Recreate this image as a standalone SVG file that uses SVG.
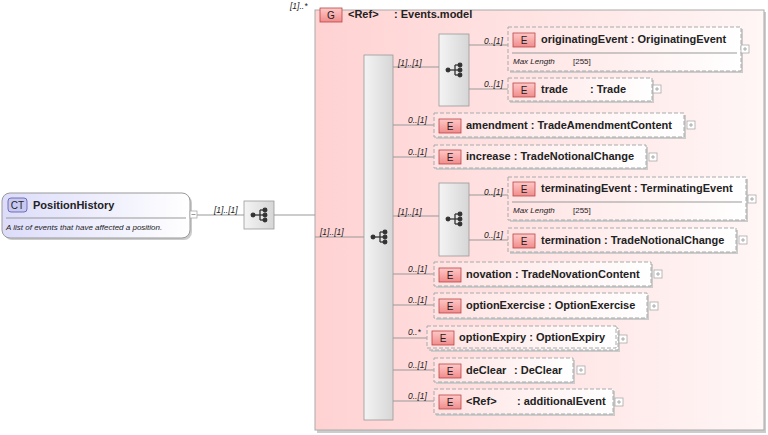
<svg xmlns="http://www.w3.org/2000/svg" width="768" height="435" viewBox="0 0 768 435">
<defs>
<linearGradient id="gg" x1="0" y1="0" x2="1" y2="0"><stop offset="0" stop-color="#ffd2d2"/><stop offset="1" stop-color="#fff6f6"/></linearGradient>
<linearGradient id="eg" x1="0" y1="0" x2="1" y2="0"><stop offset="0" stop-color="#ffe2e2"/><stop offset="1" stop-color="#ffffff"/></linearGradient>
<linearGradient id="sg" x1="0" y1="0" x2="1" y2="0"><stop offset="0" stop-color="#f4f4f4"/><stop offset="1" stop-color="#d6d6d6"/></linearGradient>
<linearGradient id="ctg" x1="0" y1="0" x2="1" y2="0"><stop offset="0" stop-color="#dcdcfa"/><stop offset="1" stop-color="#ffffff"/></linearGradient>
<linearGradient id="bg" x1="0" y1="0" x2="0" y2="1"><stop offset="0" stop-color="#ffc8c8"/><stop offset="1" stop-color="#f08c8c"/></linearGradient>
<g id="seqicon"><line x1="-7" y1="0" x2="0" y2="0"/><line x1="0" y1="-5" x2="0" y2="5"/><line x1="0" y1="-5" x2="5" y2="-5"/><line x1="0" y1="5" x2="5" y2="5"/><line x1="0" y1="0" x2="5" y2="0"/><circle cx="-7" cy="0" r="1.8"/><circle cx="5" cy="-5" r="1.8"/><circle cx="5" cy="0" r="1.8"/><circle cx="5" cy="5" r="1.8"/></g>
<g id="plus"><rect x="0" y="0" width="8" height="8" fill="#fff" stroke="#aaa" stroke-width="0.8"/><path d="M2 4h4M4 2v4" stroke="#999" stroke-width="0.8"/></g>
</defs>
<style>
text{font-family:"Liberation Sans",Arial,sans-serif;}
.nm{font-size:11px;font-weight:bold;fill:#222;}
.card{font-size:8.5px;font-style:italic;fill:#222;}
.sm{font-size:8px;fill:#222;}
.el{fill:url(#eg);stroke:#aaa;stroke-dasharray:4 2;stroke-width:1;}
.sh{fill:#ccc;}
.bd{fill:url(#bg);stroke:#b44;stroke-width:0.8;}
.bt{font-size:10px;fill:#222;}
.seq{fill:url(#sg);stroke:#999;stroke-width:0.8;}
.ic{stroke:#333;fill:#333;stroke-width:1.3;}
.cn line{stroke:#999;stroke-width:1;}
</style>

<g id="group">
<rect x="317" y="12" width="449" height="421" fill="#ccc"/>
<rect x="315" y="10" width="449" height="420" fill="url(#gg)" stroke="#aaa"/>
<text x="290" y="9" class="card">[1]..*</text>
<rect x="320" y="8" width="22" height="14" class="bd"/><text x="331" y="19" class="bt" text-anchor="middle">G</text>
<text x="348" y="18" class="nm">&lt;Ref&gt;</text><text x="394" y="18" class="nm">: Events.model</text>
</g>

<g class="cn">
<line x1="197" y1="215" x2="244" y2="215"/>
<line x1="274" y1="215" x2="315" y2="215"/>
<line x1="315" y1="237" x2="364" y2="237"/>
<line x1="393" y1="67" x2="439" y2="67"/>
<line x1="469" y1="45" x2="508" y2="45"/>
<line x1="469" y1="89" x2="508" y2="89"/>
<line x1="393" y1="125" x2="434" y2="125"/>
<line x1="393" y1="157" x2="434" y2="157"/>
<line x1="393" y1="216" x2="439" y2="216"/>
<line x1="469" y1="195" x2="508" y2="195"/>
<line x1="469" y1="240" x2="508" y2="240"/>
<line x1="393" y1="274" x2="434" y2="274"/>
<line x1="393" y1="305" x2="434" y2="305"/>
<line x1="393" y1="338" x2="427" y2="338"/>
<line x1="393" y1="370" x2="434" y2="370"/>
<line x1="393" y1="401" x2="434" y2="401"/>
</g>
<g id="labels">
<text x="214" y="213" class="card">[1]..[1]</text>
<text x="320" y="235" class="card">[1]..[1]</text>
<text x="398" y="66" class="card">[1]..[1]</text>
<text x="484" y="44" class="card">0..[1]</text>
<text x="484" y="87" class="card">0..[1]</text>
<text x="408" y="123" class="card">0..[1]</text>
<text x="408" y="155" class="card">0..[1]</text>
<text x="398" y="215" class="card">[1]..[1]</text>
<text x="484" y="195" class="card">0..[1]</text>
<text x="484" y="238" class="card">0..[1]</text>
<text x="408" y="272" class="card">0..[1]</text>
<text x="408" y="303" class="card">0..[1]</text>
<text x="408" y="335" class="card">0..*</text>
<text x="408" y="368" class="card">0..[1]</text>
<text x="408" y="399" class="card">0..[1]</text>
</g>

<g id="PositionHistory">
<rect x="4" y="195" width="188" height="45" rx="8" fill="#ccc"/>
<rect x="2" y="193" width="188" height="45" rx="8" fill="url(#ctg)" stroke="#999"/>
<rect x="8" y="198" width="19" height="14" rx="3" fill="#c8c8f0" stroke="#55a" stroke-width="0.8"/>
<text x="17.5" y="209" class="bt" text-anchor="middle">CT</text>
<text x="33" y="209" class="nm">PositionHistory</text>
<line x1="6" y1="218" x2="186" y2="218" stroke="#999"/>
<text x="6" y="230" class="sm" font-size="8.5" font-style="italic">A list of events that have affected a position.</text>
<rect x="190" y="211" width="7" height="7" fill="#fff" stroke="#aaa" stroke-width="0.8"/><path d="M191.5 214.5h4" stroke="#999"/>
</g>

<g id="seq0"><rect x="244" y="201" width="30" height="28" class="seq"/><use href="#seqicon" x="260" y="215" class="ic"/></g>
<g id="seqMain"><rect x="364" y="55" width="29" height="365" class="seq"/><use href="#seqicon" x="380" y="237" class="ic"/></g>
<g id="seq1"><rect x="439" y="34" width="30" height="72" class="seq"/><use href="#seqicon" x="455" y="70" class="ic"/></g>
<g id="seq2"><rect x="439" y="183" width="30" height="73" class="seq"/><use href="#seqicon" x="455" y="219" class="ic"/></g>

<g id="originatingEvent">
<rect x="510" y="29" width="233" height="44" class="sh"/><rect x="508" y="27" width="233" height="44" class="el"/>
<rect x="513" y="33" width="22" height="14" class="bd"/><text x="524" y="44" class="bt" text-anchor="middle">E</text>
<text x="541" y="43" class="nm">originatingEvent : OriginatingEvent</text>
<line x1="512" y1="53" x2="737" y2="53" stroke="#999"/>
<text x="513" y="64" class="sm" font-style="italic">Max Length</text><text x="573" y="64" class="sm" fill="#777">[255]</text>
<use href="#plus" x="741" y="45"/>
</g>
<g id="trade">
<rect x="510" y="80" width="144" height="23" class="sh"/><rect x="508" y="78" width="144" height="23" class="el"/>
<rect x="513" y="83" width="22" height="14" class="bd"/><text x="524" y="94" class="bt" text-anchor="middle">E</text>
<text x="541" y="93" class="nm">trade</text><text x="590" y="93" class="nm">: Trade</text>
<use href="#plus" x="653" y="85"/>
</g>
<g id="amendment">
<rect x="436" y="115" width="250" height="24" class="sh"/><rect x="434" y="113" width="250" height="24" class="el"/>
<rect x="439" y="119" width="22" height="14" class="bd"/><text x="450" y="130" class="bt" text-anchor="middle">E</text>
<text x="466" y="129" class="nm">amendment : TradeAmendmentContent</text>
<use href="#plus" x="687" y="121"/>
</g>
<g id="increase">
<rect x="436" y="147" width="212" height="23" class="sh"/><rect x="434" y="145" width="212" height="23" class="el"/>
<rect x="439" y="150" width="22" height="14" class="bd"/><text x="450" y="161" class="bt" text-anchor="middle">E</text>
<text x="466" y="160" class="nm">increase : TradeNotionalChange</text>
<use href="#plus" x="649" y="153"/>
</g>
<g id="terminatingEvent">
<rect x="510" y="179" width="238" height="43" class="sh"/><rect x="508" y="177" width="238" height="43" class="el"/>
<rect x="513" y="182" width="22" height="14" class="bd"/><text x="524" y="193" class="bt" text-anchor="middle">E</text>
<text x="541" y="192" class="nm">terminatingEvent : TerminatingEvent</text>
<line x1="512" y1="202" x2="742" y2="202" stroke="#999"/>
<text x="513" y="213" class="sm" font-style="italic">Max Length</text><text x="573" y="213" class="sm" fill="#777">[255]</text>
<use href="#plus" x="748" y="195"/>
</g>
<g id="termination">
<rect x="510" y="230" width="228" height="24" class="sh"/><rect x="508" y="228" width="228" height="24" class="el"/>
<rect x="513" y="234" width="22" height="14" class="bd"/><text x="524" y="245" class="bt" text-anchor="middle">E</text>
<text x="541" y="244" class="nm">termination : TradeNotionalChange</text>
<use href="#plus" x="739" y="236"/>
</g>
<g id="novation">
<rect x="436" y="264" width="217" height="24" class="sh"/><rect x="434" y="262" width="217" height="24" class="el"/>
<rect x="439" y="268" width="22" height="14" class="bd"/><text x="450" y="279" class="bt" text-anchor="middle">E</text>
<text x="466" y="278" class="nm">novation : TradeNovationContent</text>
<use href="#plus" x="654" y="270"/>
</g>
<g id="optionExercise">
<rect x="436" y="295" width="213" height="25" class="sh"/><rect x="434" y="293" width="213" height="25" class="el"/>
<rect x="439" y="299" width="22" height="14" class="bd"/><text x="450" y="310" class="bt" text-anchor="middle">E</text>
<text x="466" y="309" class="nm">optionExercise : OptionExercise</text>
<use href="#plus" x="650" y="302"/>
</g>
<g id="optionExpiry">
<rect x="431" y="330" width="189" height="22" class="sh"/><rect x="429" y="328" width="189" height="22" class="el"/>
<rect x="427" y="326" width="189" height="22" class="el"/>
<rect x="432" y="331" width="22" height="14" class="bd"/><text x="443" y="342" class="bt" text-anchor="middle">E</text>
<text x="459" y="341" class="nm">optionExpiry : OptionExpiry</text>
<use href="#plus" x="619" y="335"/>
</g>
<g id="deClear">
<rect x="436" y="360" width="139" height="24" class="sh"/><rect x="434" y="358" width="139" height="24" class="el"/>
<rect x="439" y="364" width="22" height="14" class="bd"/><text x="450" y="375" class="bt" text-anchor="middle">E</text>
<text x="466" y="374" class="nm">deClear</text><text x="514" y="374" class="nm">: DeClear</text>
<use href="#plus" x="577" y="366"/>
</g>
<g id="additionalEvent">
<rect x="436" y="391" width="179" height="25" class="sh"/><rect x="434" y="389" width="179" height="25" class="el"/>
<rect x="439" y="395" width="22" height="14" class="bd"/><text x="450" y="406" class="bt" text-anchor="middle">E</text>
<text x="466" y="405" class="nm">&lt;Ref&gt;</text><text x="517" y="405" class="nm">: additionalEvent</text>
<use href="#plus" x="615" y="398"/>
</g>
</svg>
